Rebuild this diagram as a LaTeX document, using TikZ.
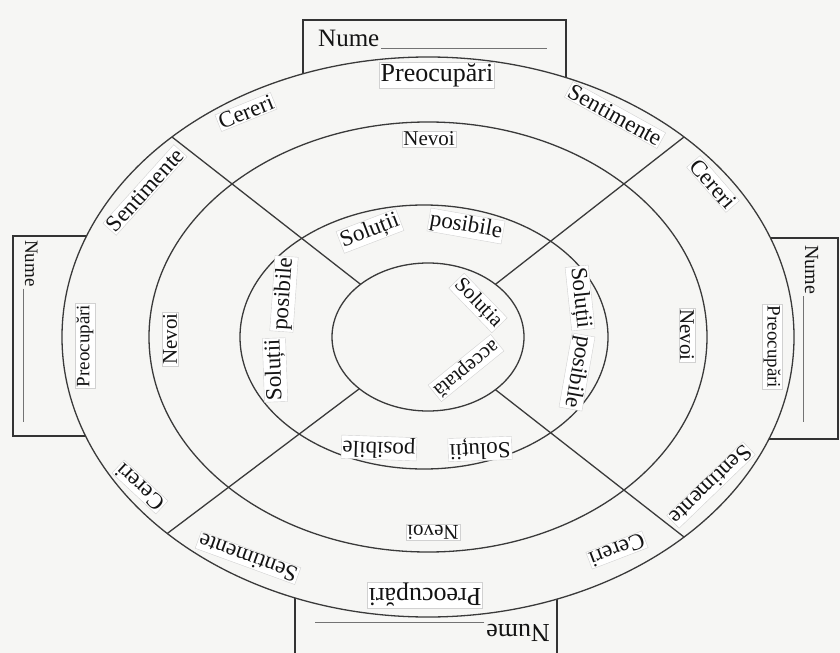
\documentclass[tikz,border=0pt]{standalone}
\usepackage{fontspec}
\setmainfont{Liberation Serif}
\usetikzlibrary{shapes.geometric}
\definecolor{paper}{HTML}{F6F6F4}
\definecolor{ink}{HTML}{3A3A3A}
\begin{document}
\begin{tikzpicture}[x=1bp,y=-1bp,
  ring/.style={ellipse, draw=ink, line width=1.3bp, inner sep=0pt, outer sep=0pt},
  spoke/.style={draw=ink, line width=1.3bp},
  namebox/.style={draw=black!80, line width=1.2bp, inner sep=0pt, outer sep=0pt},
  slip/.style={fill=white, draw=black!18, line width=0.4bp, inner sep=1.2bp,
    text=black!92, font=\fontsize{23bp}{26bp}\selectfont},
  big/.style={font=\fontsize{26bp}{29bp}\selectfont},
  small/.style={font=\fontsize{19bp}{22bp}\selectfont},
  medium/.style={font=\fontsize{21bp}{24bp}\selectfont},
  nametag/.style={inner sep=0pt, anchor=base west, text=black!92}
]
\newcommand{\blank}[1]{\kern2bp\textcolor{black!55}{\rule[-2bp]{#1}{1.2bp}}}
\useasboundingbox (0,0) rectangle (840,653);
\clip (0,0) rectangle (840,653);
\fill[paper] (0,0) rectangle (840,653);

% name boxes on the four sides (their inner parts are covered by the disc)
\node[namebox, minimum width=263bp, minimum height=90bp]  (boxN) at (434.5,65) {};
\node[namebox, minimum width=120bp, minimum height=200bp] (boxW) at (73,336) {};
\node[namebox, minimum width=120bp, minimum height=201bp] (boxE) at (778,338.5) {};
\node[namebox, minimum width=262bp, minimum height=120bp] (boxS) at (426,650) {};

% concentric rings
\node[ring, fill=paper, minimum width=732bp, minimum height=560bp] (outer) at (428,337) {};
\node[ring, minimum width=558bp, minimum height=430bp] (mid)   at (428,337) {};
\node[ring, minimum width=368bp, minimum height=264bp] (inner) at (424,337) {};
\node[ring, minimum width=192bp, minimum height=148bp] (core)  at (428,337) {};

% spokes from the centre disc to the outer ring
\foreach \a in {38,142,217,322}
  \draw[spoke] (core.\a) -- (outer.\a);

% name lines
\node[nametag, font=\fontsize{25bp}{28bp}\selectfont] (nameN) at (318,47) {Nume\blank{166bp}};
\node[nametag, font=\fontsize{19bp}{22bp}\selectfont, rotate=-90] (nameW) at (25,240) {Nume\blank{133bp}};
\node[nametag, font=\fontsize{20bp}{23bp}\selectfont, rotate=-90] (nameE) at (805,245) {Nume\blank{126bp}};
\node[nametag, font=\fontsize{26bp}{29bp}\selectfont, rotate=180] (nameS) at (550,624) {Nume\blank{169bp}};

% outer ring labels
\node[slip, big]             (preN)  at (437,75)  {Preocupări};
\node[slip, rotate=22]       (cerNW) at (246,112) {Cereri};
\node[slip, rotate=-29]      (senNE) at (615,115) {Sentimente};
\node[slip, rotate=-49]      (cerNE) at (713,184) {Cereri};
\node[slip, rotate=48]       (senNW) at (145,190) {Sentimente};
\node[slip, small, rotate=90]  (preW) at (85,346)  {Preocupări};
\node[slip, small, rotate=-90] (preE) at (772,347) {Preocupări};
\node[slip, rotate=137]      (cerSW) at (140,487) {Cereri};
\node[slip, rotate=160]      (senSW) at (248,558) {Sentimente};
\node[slip, rotate=201]      (cerSE) at (617,550) {Cereri};
\node[slip, rotate=224]      (senSE) at (711,485) {Sentimente};
\node[slip, big, rotate=180] (preS)  at (425,595) {Preocupări};

% second ring labels
\node[slip, medium]             (nevN) at (429,139) {Nevoi};
\node[slip, medium, rotate=90]  (nevW) at (170,339) {Nevoi};
\node[slip, medium, rotate=-90] (nevE) at (687,335) {Nevoi};
\node[slip, medium, rotate=180] (nevS) at (433,532) {Nevoi};

% third ring labels
\node[slip, rotate=21]   (solN) at (370,231) {Soluții};
\node[slip, rotate=-10]  (posN) at (466,226) {posibile};
\node[slip, rotate=92]   (solW) at (275,370) {Soluții};
\node[slip, rotate=86]   (posW) at (284,294) {posibile};
\node[slip, rotate=-84]  (solE) at (580,298) {Soluții};
\node[slip, rotate=-100] (posE) at (577,372) {posibile};
\node[slip, rotate=182]  (solS) at (480,449) {Soluții};
\node[slip, rotate=178]  (posS) at (379,448) {posibile};

% centre labels
\node[slip, medium, rotate=-46] (solC) at (478,303) {Soluția};
\node[slip, medium, rotate=219] (accC) at (466,368) {acceptată};
\end{tikzpicture}
\end{document}
